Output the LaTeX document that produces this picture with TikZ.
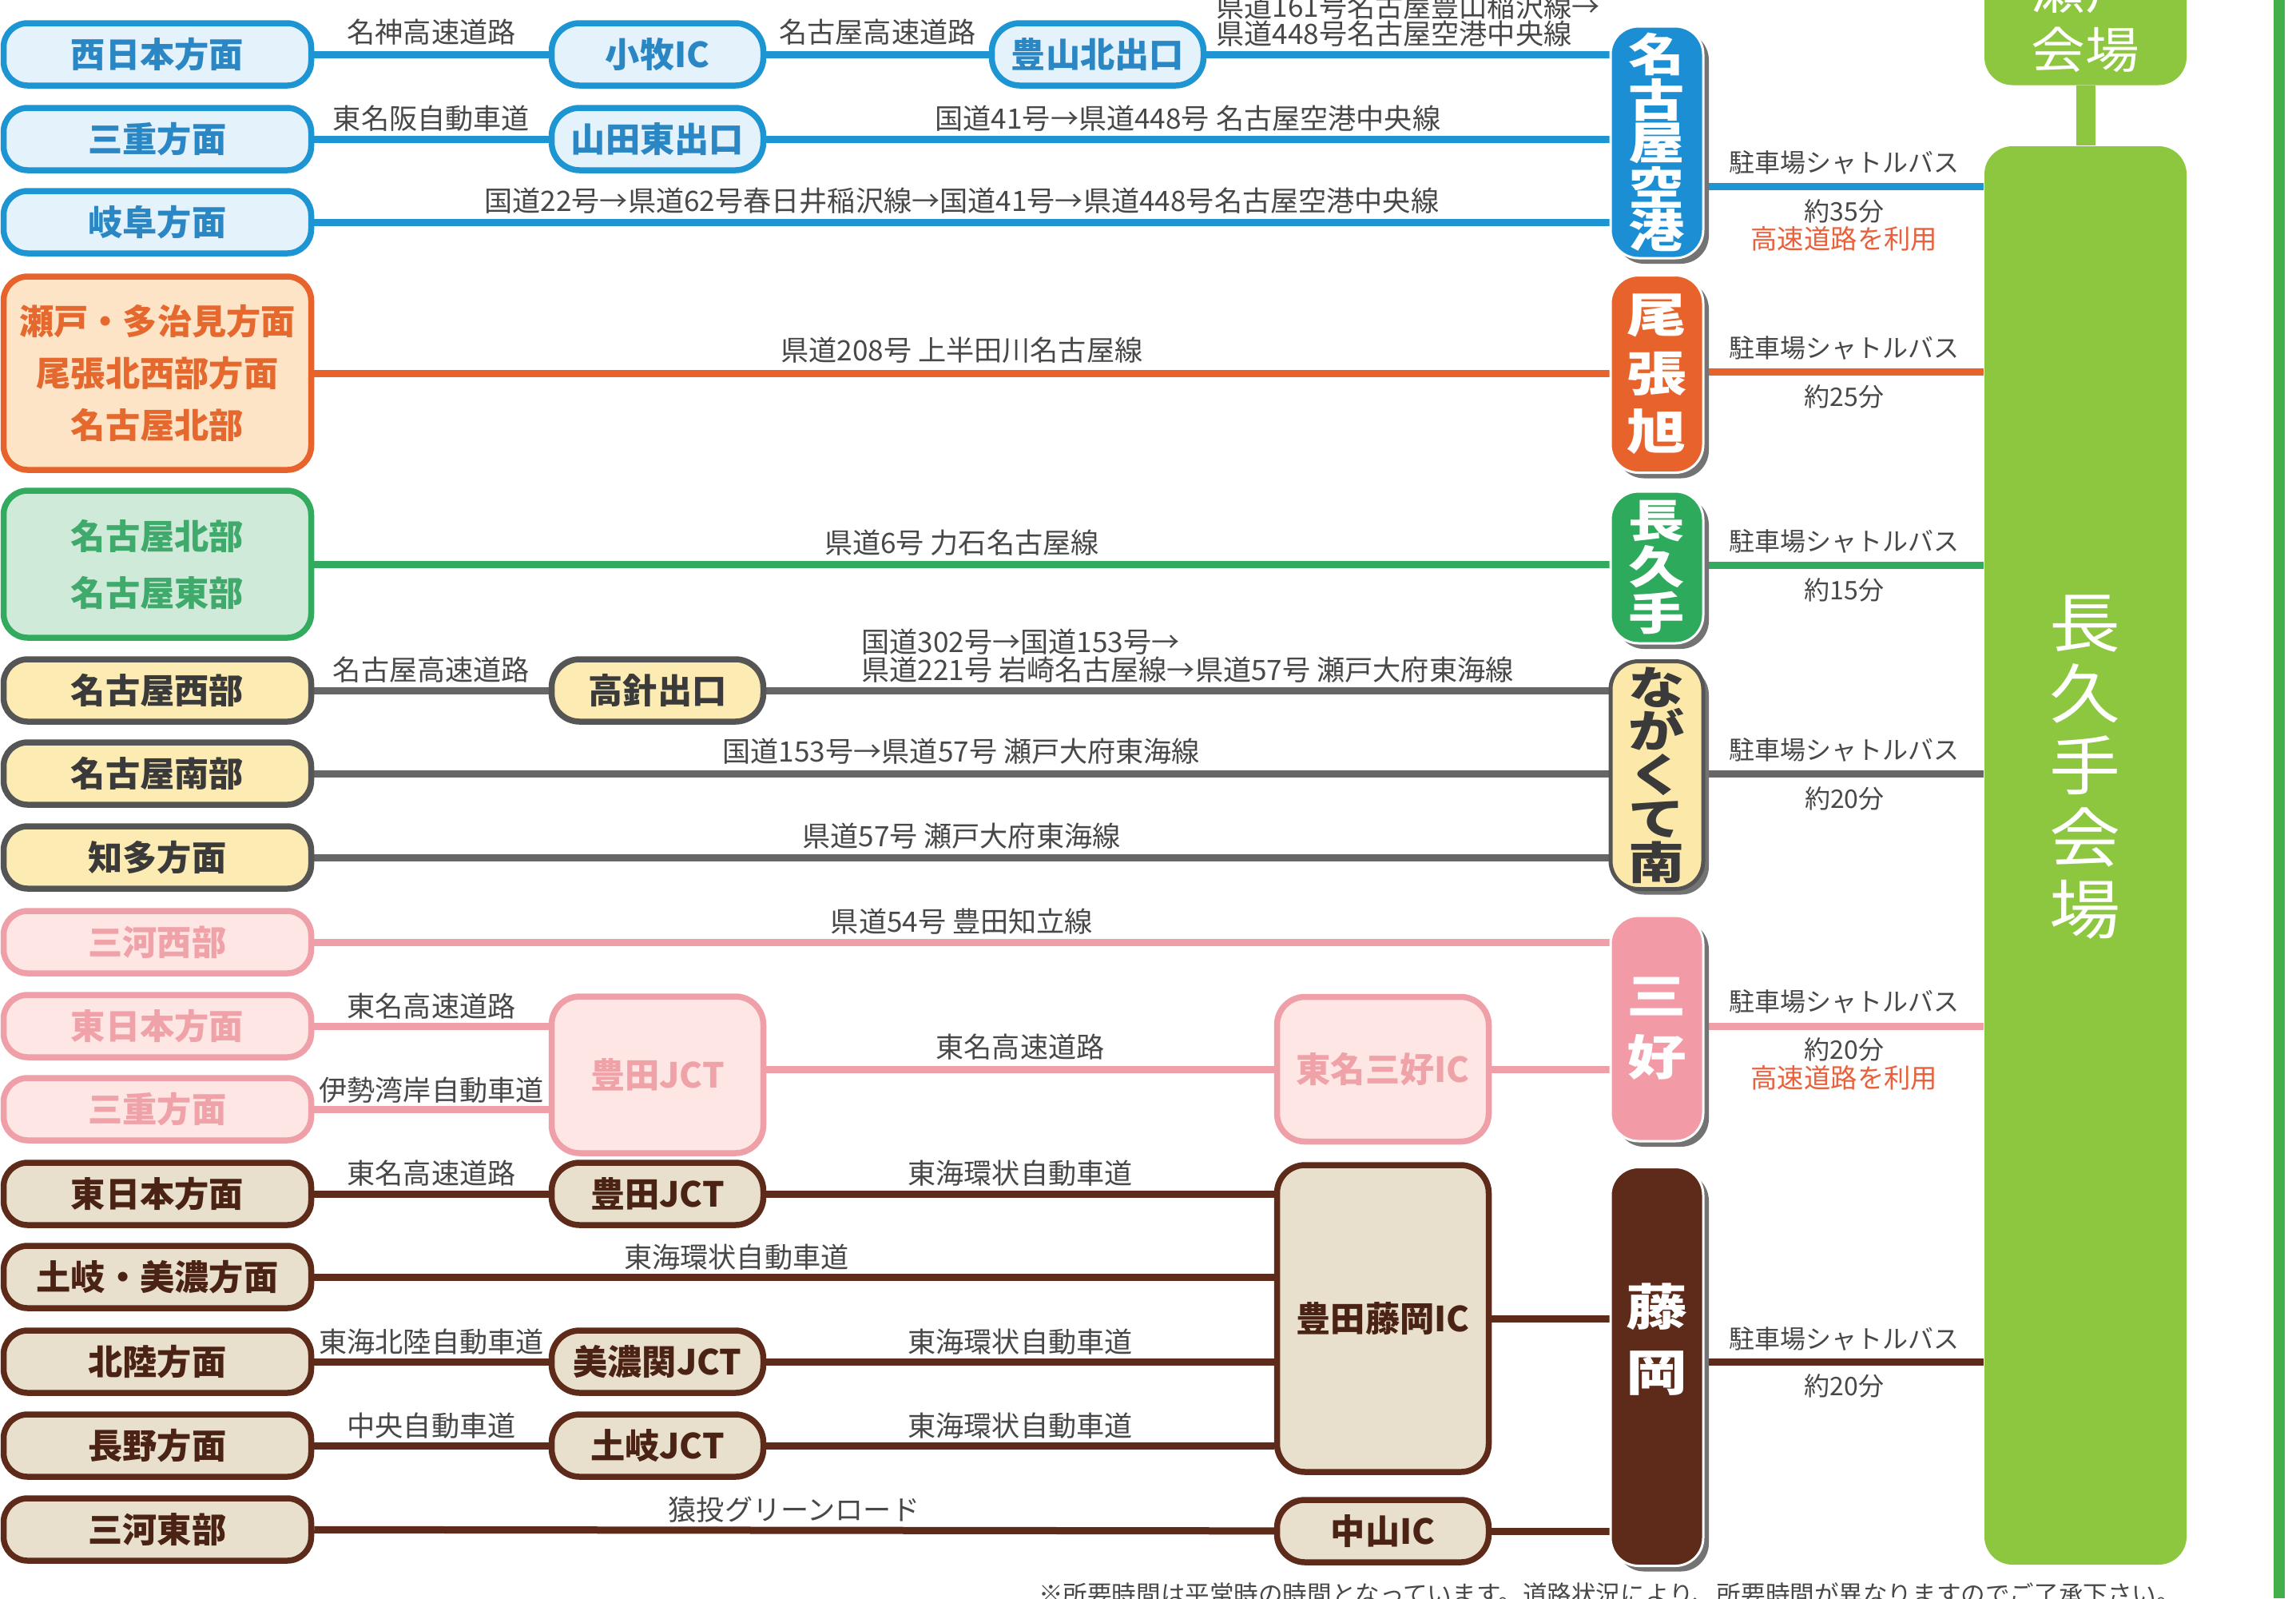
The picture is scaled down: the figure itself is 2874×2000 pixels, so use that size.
\documentclass[tikz,border=0pt]{standalone}
\usepackage{fontspec}
\setmainfont{Noto Sans CJK JP}
\newfontfamily\widefont[FakeStretch=1.25]{Noto Sans CJK JP}
\newfontfamily\venuefont[FakeStretch=1.1]{Noto Sans CJK JP}
\usetikzlibrary{backgrounds,shadows}
\definecolor{blueL}{HTML}{1E95D3}
\definecolor{blueF}{HTML}{E3F2FB}
\definecolor{blueT}{HTML}{2B86C4}
\definecolor{blueP}{HTML}{1C8ED3}
\definecolor{oraL}{HTML}{E8632C}
\definecolor{oraF}{HTML}{FDE4C6}
\definecolor{oraT}{HTML}{E5692F}
\definecolor{grnL}{HTML}{33AB5F}
\definecolor{grnF}{HTML}{D0EADA}
\definecolor{grnT}{HTML}{3FAA6C}
\definecolor{grnP}{HTML}{2EAA5C}
\definecolor{gryL}{HTML}{666666}
\definecolor{gryB}{HTML}{555555}
\definecolor{yelF}{HTML}{FCEBB3}
\definecolor{gryT}{HTML}{3A3A3A}
\definecolor{yelP}{HTML}{FCE9AA}
\definecolor{pnkL}{HTML}{EF9FA7}
\definecolor{pnkF}{HTML}{FDE6E3}
\definecolor{pnkT}{HTML}{F0A2A9}
\definecolor{pnkP}{HTML}{F29BA7}
\definecolor{brnL}{HTML}{5E2B1A}
\definecolor{brnF}{HTML}{E8DFCC}
\definecolor{brnT}{HTML}{4A2314}
\definecolor{lblT}{HTML}{484848}
\definecolor{redT}{HTML}{E8603C}
\definecolor{venueG}{HTML}{8DC63F}
\definecolor{edgeG}{HTML}{41B04A}
\begin{document}
\begin{tikzpicture}[x=0.1mm, y=-0.1mm,
  lbox/.style={draw, line width=0.75mm, rounded corners=3mm, inner sep=0pt, align=center,
    minimum width=38.5mm, minimum height=7.8mm, font=\bfseries\fontsize{12.3}{15}\selectfont},
  mbox/.style={lbox, minimum width=26.5mm, rounded corners=3.5mm},
  bluebox/.style={draw=blueL, fill=blueF, text=blueT},
  orabox/.style={draw=oraL, fill=oraF, text=oraT},
  grnbox/.style={draw=grnL, fill=grnF, text=grnT},
  yelbox/.style={draw=gryB, fill=yelF, text=gryT},
  pnkbox/.style={draw=pnkL, fill=pnkF, text=pnkT},
  brnbox/.style={draw=brnL, fill=brnF, text=brnT},
  pbox/.style={rounded corners=3.5mm, minimum width=11.6mm, inner sep=0pt, align=center,
    draw=white, line width=0.3mm, text=white,
    drop shadow={shadow xshift=0.7mm, shadow yshift=-0.7mm, fill=black!55, opacity=1}},
  road/.style={line width=0.9mm},
  rlabel/.style={font=\fontsize{10}{10}\selectfont, text=lblT, inner sep=0pt},
  shut/.style={font=\fontsize{9.1}{11}\selectfont, text=lblT, inner sep=0pt},
  hwy/.style={font=\fontsize{9.5}{11}\selectfont, text=redT, inner sep=0pt}
]
\useasboundingbox (0,0) rectangle (2874,2000);

% ---------- origin boxes ----------
\node[lbox, bluebox] (b1) at (197,68) {西日本方面};
\node[lbox, bluebox] (b2) at (197,174) {三重方面};
\node[lbox, bluebox] (b3) at (197,278) {岐阜方面};
\node[lbox, orabox, minimum height=24.2mm, font=\bfseries\fontsize{12.3}{18.5}\selectfont] (o1) at (197,467) {瀬戸・多治見方面\\尾張北西部方面\\名古屋北部};
\node[lbox, grnbox, minimum height=18.4mm, font=\bfseries\fontsize{12.3}{20.2}\selectfont] (g1) at (197,706) {名古屋北部\\名古屋東部};
\node[lbox, yelbox] (y1) at (197,864) {名古屋西部};
\node[lbox, yelbox] (y2) at (197,968) {名古屋南部};
\node[lbox, yelbox] (y3) at (197,1073) {知多方面};
\node[lbox, pnkbox] (p1) at (197,1179) {三河西部};
\node[lbox, pnkbox] (p2) at (197,1284) {東日本方面};
\node[lbox, pnkbox] (p3) at (197,1388) {三重方面};
\node[lbox, brnbox] (r1) at (197,1494) {東日本方面};
\node[lbox, brnbox] (r2) at (197,1598) {土岐・美濃方面};
\node[lbox, brnbox] (r3) at (197,1704) {北陸方面};
\node[lbox, brnbox] (r4) at (197,1809) {長野方面};
\node[lbox, brnbox] (r5) at (197,1914) {三河東部};

% ---------- intermediate nodes ----------
\node[mbox, bluebox] (komaki) at (823,68) {小牧IC};
\node[mbox, bluebox] (toyoyama) at (1374,68) {豊山北出口};
\node[mbox, bluebox] (yamada) at (823,174) {山田東出口};
\node[mbox, yelbox] (takabari) at (823,864) {高針出口};
\node[mbox, pnkbox, minimum height=19.6mm] (toyotaP) at (823,1345) {豊田JCT};
\node[mbox, pnkbox, minimum height=18.1mm] (miyoshiIC) at (1731,1338) {東名三好IC};
\node[mbox, brnbox] (toyotaB) at (823,1494) {豊田JCT};
\node[mbox, brnbox] (minoseki) at (823,1704) {美濃関JCT};
\node[mbox, brnbox] (tokiJCT) at (823,1809) {土岐JCT};
\node[mbox, brnbox, minimum height=38.4mm] (fujiokaIC) at (1731,1650) {豊田藤岡IC};
\node[mbox, brnbox] (nakayama) at (1731,1916) {中山IC};

% ---------- parking lots ----------
\node[pbox, fill=blueP, minimum height=29mm, font=\widefont\bfseries\fontsize{16}{15}\selectfont] (pkA) at (2074,178) {名\\古\\屋\\空\\港};
\node[pbox, fill=oraL, minimum height=24.7mm, font=\widefont\bfseries\fontsize{17}{20.8}\selectfont] (pkB) at (2074,468) {尾\\張\\旭};
\node[pbox, fill=grnP, minimum height=19mm, font=\widefont\bfseries\fontsize{16}{16.5}\selectfont] (pkC) at (2074,710) {長\\久\\手};
\node[pbox, fill=yelP, draw=gryB, line width=0.5mm, text=gryT, minimum height=28.5mm, font=\widefont\bfseries\fontsize{16}{15.6}\selectfont] (pkD) at (2074,970) {な\\が\\く\\て\\南};
\node[pbox, fill=pnkP, minimum height=28.2mm, font=\widefont\bfseries\fontsize{17}{21.9}\selectfont] (pkE) at (2074,1287) {三\\好};
\node[pbox, fill=brnL, minimum height=49.9mm] (pkF) at (2074,1710) {};
\node[text=white, align=center, inner sep=0pt, font=\widefont\bfseries\fontsize{17.5}{23.3}\selectfont] (pkFlbl) at (2074,1676) {藤\\岡};

% ---------- venues ----------
\node[fill=venueG, rounded corners=3.5mm, minimum width=25.3mm, minimum height=177.5mm, inner sep=0pt] (venue) at (2610.5,1070.5) {};
\node[text=white, align=center, inner sep=0pt, font=\venuefont\fontsize{23}{25.6}\selectfont] (venuelbl) at (2610,960) {長\\久\\手\\会\\場};
\node[fill=venueG, rounded corners=3.5mm, minimum width=25.3mm, minimum height=16.7mm, inner sep=0pt] (seto) at (2610.5,23) {};
\node[text=white, align=center, inner sep=0pt, font=\venuefont\fontsize{17.5}{21}\selectfont] (setolbl) at (2610,25) {瀬戸\\会場};

% ---------- footnote ----------
\node[anchor=north, inner sep=0pt, text=lblT, font=\fontsize{8.7}{10}\selectfont] (note) at (2015,1980) {※所要時間は平常時の時間となっています。道路状況により、所要時間が異なりますのでご了承下さい。};

% ---------- row coordinates for shuttle lines ----------
\coordinate (sA) at (2300,233);
\coordinate (sB) at (2300,465);
\coordinate (sC) at (2300,707);
\coordinate (sD) at (2300,968);
\coordinate (sE) at (2300,1284);
\coordinate (sF) at (2300,1704);

\begin{scope}[on background layer]
\fill[white] (0,0) rectangle (2874,2000);
\fill[edgeG] (2846,0) rectangle (2860,2000);
\draw[venueG, line width=2.4mm] (seto.south) -- (venue.north);

% blue
\draw[road, blueL] (b1) -- (komaki) node[rlabel, midway, yshift=2.8mm] {名神高速道路};
\draw[road, blueL] (komaki) -- (toyoyama) node[rlabel, midway, yshift=2.8mm] {名古屋高速道路};
\draw[road, blueL] (toyoyama.east) -- (toyoyama.east -| pkA.west) node[rlabel, midway, yshift=4.3mm, align=left, font=\fontsize{10}{9.8}\selectfont] {県道161号名古屋豊山稲沢線→\\県道448号名古屋空港中央線};
\draw[road, blueL] (b2) -- (yamada) node[rlabel, midway, yshift=2.6mm] {東名阪自動車道};
\draw[road, blueL] (yamada.east) -- (yamada.east -| pkA.west) node[rlabel, midway, yshift=2.6mm] {国道41号→県道448号 名古屋空港中央線};
\draw[road, blueL] (b3.east) -- (b3.east -| pkA.west) node[rlabel, midway, yshift=2.7mm] {国道22号→県道62号春日井稲沢線→国道41号→県道448号名古屋空港中央線};

% orange, green
\draw[road, oraL] (o1.east) -- (o1.east -| pkB.west) node[rlabel, midway, yshift=2.9mm] {県道208号 上半田川名古屋線};
\draw[road, grnL] (g1.east) -- (g1.east -| pkC.west) node[rlabel, midway, yshift=2.7mm] {県道6号 力石名古屋線};

% grey (yellow group)
\draw[road, gryL] (y1) -- (takabari) node[rlabel, midway, yshift=2.6mm] {名古屋高速道路};
\draw[road, gryL] (takabari.east) -- (takabari.east -| pkD.west) node[rlabel, midway, yshift=4.3mm, align=left, font=\fontsize{10}{10}\selectfont] {国道302号→国道153号→\\県道221号 岩崎名古屋線→県道57号 瀬戸大府東海線};
\draw[road, gryL] (y2.east) -- (y2.east -| pkD.west) node[rlabel, midway, yshift=2.8mm] {国道153号→県道57号 瀬戸大府東海線};
\draw[road, gryL] (y3.east) -- (y3.east -| pkD.west) node[rlabel, midway, yshift=2.7mm] {県道57号 瀬戸大府東海線};

% pink
\draw[road, pnkL] (p1.east) -- (p1.east -| pkE.west) node[rlabel, midway, yshift=2.6mm] {県道54号 豊田知立線};
\draw[road, pnkL] (p2.east) -- (p2.east -| toyotaP.west) node[rlabel, midway, yshift=2.5mm] {東名高速道路};
\draw[road, pnkL] (p3.east) -- (p3.east -| toyotaP.west) node[rlabel, midway, yshift=2.4mm] {伊勢湾岸自動車道};
\draw[road, pnkL] (toyotaP.east |- miyoshiIC) -- (miyoshiIC.west) node[rlabel, midway, yshift=2.8mm] {東名高速道路};
\draw[road, pnkL] (miyoshiIC.east) -- (miyoshiIC.east -| pkE.west);

% brown
\draw[road, brnL] (r1) -- (toyotaB) node[rlabel, midway, yshift=2.6mm] {東名高速道路};
\draw[road, brnL] (toyotaB.east) -- (toyotaB.east -| fujiokaIC.west) node[rlabel, midway, yshift=2.6mm] {東海環状自動車道};
\draw[road, brnL] (r2.east) -- (r2.east -| fujiokaIC.west) node[rlabel, pos=0.44, yshift=2.5mm] {東海環状自動車道};
\draw[road, brnL] (r3) -- (minoseki) node[rlabel, midway, yshift=2.5mm] {東海北陸自動車道};
\draw[road, brnL] (minoseki.east) -- (minoseki.east -| fujiokaIC.west) node[rlabel, midway, yshift=2.5mm] {東海環状自動車道};
\draw[road, brnL] (r4) -- (tokiJCT) node[rlabel, midway, yshift=2.5mm] {中央自動車道};
\draw[road, brnL] (tokiJCT.east) -- (tokiJCT.east -| fujiokaIC.west) node[rlabel, midway, yshift=2.5mm] {東海環状自動車道};
\draw[road, brnL] (r5) -- (nakayama) node[rlabel, midway, yshift=2.6mm] {猿投グリーンロード};
\draw[road, brnL] (fujiokaIC.east) -- (fujiokaIC.east -| pkF.west);
\draw[road, brnL] (nakayama.east) -- (nakayama.east -| pkF.west);

% shuttle buses
\draw[road, blueL] (pkA.east |- sA) -- (venue.west |- sA)
  node[shut, midway, yshift=3mm] {駐車場シャトルバス}
  node[shut, midway, yshift=-3.1mm] {約35分}
  node[hwy, midway, yshift=-6.6mm] {高速道路を利用};
\draw[road, oraL] (pkB.east |- sB) -- (venue.west |- sB)
  node[shut, midway, yshift=3mm] {駐車場シャトルバス}
  node[shut, midway, yshift=-3.1mm] {約25分};
\draw[road, grnL] (pkC.east |- sC) -- (venue.west |- sC)
  node[shut, midway, yshift=3mm] {駐車場シャトルバス}
  node[shut, midway, yshift=-3.1mm] {約15分};
\draw[road, gryL] (pkD.east |- sD) -- (venue.west |- sD)
  node[shut, midway, yshift=3mm] {駐車場シャトルバス}
  node[shut, midway, yshift=-3.1mm] {約20分};
\draw[road, pnkL] (pkE.east |- sE) -- (venue.west |- sE)
  node[shut, midway, yshift=3.1mm] {駐車場シャトルバス}
  node[shut, midway, yshift=-2.9mm] {約20分}
  node[hwy, midway, yshift=-6.5mm] {高速道路を利用};
\draw[road, brnL] (pkF.east |- sF) -- (venue.west |- sF)
  node[shut, midway, yshift=2.9mm] {駐車場シャトルバス}
  node[shut, midway, yshift=-3mm] {約20分};
\end{scope}
\end{tikzpicture}
\end{document}
